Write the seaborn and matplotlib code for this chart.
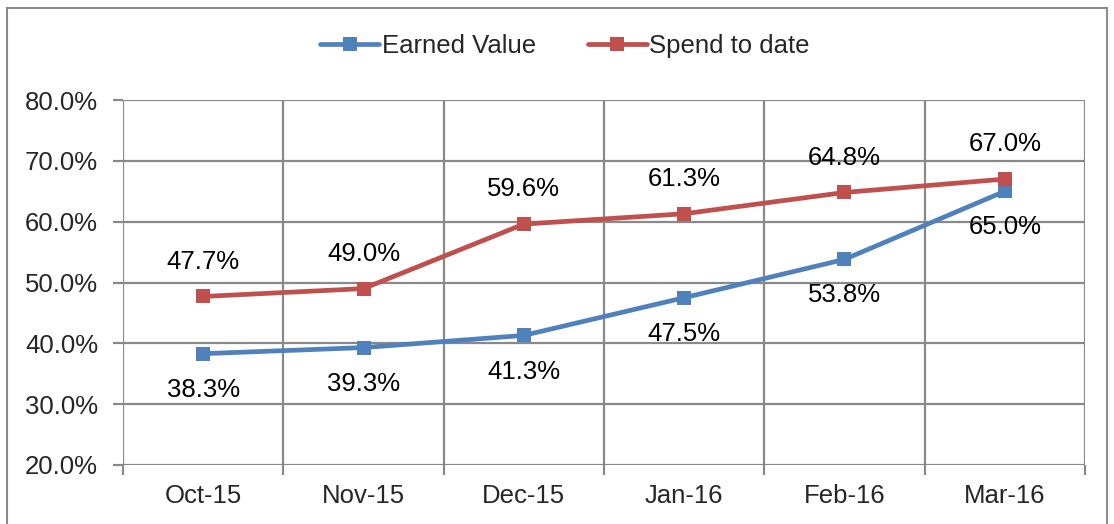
import matplotlib
matplotlib.use("Agg")
import matplotlib.pyplot as plt
import seaborn as sns
import pandas as pd
from matplotlib.patches import Rectangle

months = ["Oct-15", "Nov-15", "Dec-15", "Jan-16", "Feb-16", "Mar-16"]
earned_value = [38.3, 39.3, 41.3, 47.5, 53.8, 65.0]
spend_to_date = [47.7, 49.0, 59.6, 61.3, 64.8, 67.0]
series_names = ["Earned Value", "Spend to date"]
y_ticks = [20, 30, 40, 50, 60, 70, 80]

sns.set_theme(style="white")
plt.rcParams['font.family'] = ['Liberation Sans', 'DejaVu Sans']

df = pd.DataFrame({
    "month": months * 2,
    "x": list(range(len(months))) * 2,
    "value": earned_value + spend_to_date,
    "series": [series_names[0]] * len(months) + [series_names[1]] * len(months),
})

colors = {"Earned Value": "#4F81BD", "Spend to date": "#C0504D"}
grid_c = "#898989"
FS = 18.5

fig = plt.figure(figsize=(11.14, 5.24), dpi=100)
ax = fig.add_axes([123/1114, 1-465/524, (1085-123)/1114, (465-100)/524])

sns.lineplot(data=df, x="x", y="value", hue="series", palette=colors,
             style="series", markers={"Earned Value": "s", "Spend to date": "s"},
             dashes=False, linewidth=3.4, markersize=10.5, markeredgewidth=0,
             ax=ax, legend=True)

ax.set_xlim(-0.5, len(months) - 0.5)
ax.set_ylim(20, 80)
ax.set_yticks(y_ticks)
ax.set_yticklabels([f"{v:.1f}%" for v in y_ticks], fontsize=FS)
ax.set_xticks(range(len(months)))
ax.set_xticklabels(months, fontsize=FS)
ax.tick_params(axis="x", length=0, pad=14)
ax.tick_params(axis="y", length=7, width=1.6, color=grid_c, pad=11, left=True)
ax.set_xlabel("")
ax.set_ylabel("")

for v in y_ticks:
    ax.axhline(v, color=grid_c, lw=1.6, zorder=0)
for b in range(len(months) + 1):
    ax.axvline(b - 0.5, color=grid_c, lw=1.6, zorder=0)
ax.set_xticks([b - 0.5 for b in range(len(months) + 1)], minor=True)
ax.tick_params(axis="x", which="minor", length=7, width=1.6, color=grid_c, bottom=True)

for s in ax.spines.values():
    s.set_visible(False)

for i, v in enumerate(earned_value):
    ax.annotate(f"{v:.1f}%", (i, v), xytext=(0, -26), textcoords="offset points",
                ha="center", va="center", fontsize=FS, color="black")
for i, v in enumerate(spend_to_date):
    ax.annotate(f"{v:.1f}%", (i, v), xytext=(0, 25), textcoords="offset points",
                ha="center", va="center", fontsize=FS, color="black")

handles, labels = ax.get_legend_handles_labels()
ax.legend(handles, labels, loc="center", bbox_to_anchor=(565/1114, 1 - 46/524),
          bbox_transform=fig.transFigure, ncol=2, frameon=False, fontsize=FS,
          handlelength=2.3, handletextpad=0.1, columnspacing=2.0)

fig.patches.append(Rectangle((7/1114, -0.01), 1100/1114, 1 - 8/524 + 0.01,
                             transform=fig.transFigure, fill=False,
                             edgecolor="#8C8C8C", lw=1.5))

fig.savefig("out.png", dpi=100)
